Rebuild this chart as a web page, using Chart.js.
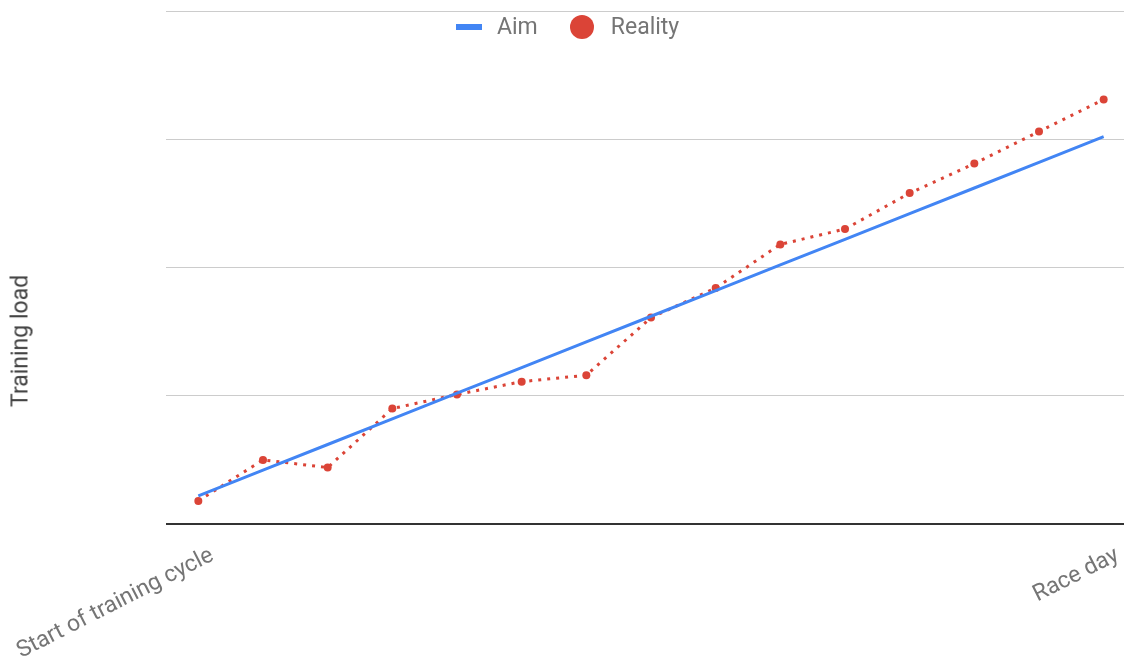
<!DOCTYPE html>
<html>
<head>
<meta charset="utf-8">
<script src="https://cdn.jsdelivr.net/npm/chart.js@4.4.1/dist/chart.umd.min.js"></script>
<style>
  html, body { margin: 0; padding: 0; background: #fff; overflow: hidden; }
  #wrap { position: relative; width: 1140px; height: 671px; }
  #legend { position: absolute; top: 13px; left: 456px; font-family: Roboto, sans-serif; font-size: 23px; line-height: 28px; color: #757575; display: flex; align-items: center; }
  #legend .bar { width: 26px; height: 6px; background: #4285f4; margin-right: 15px; }
  #legend .dot { width: 24px; height: 24px; border-radius: 50%; background: #db4437; margin: 0 17px 0 32px; }
  #ytitle { position: absolute; left: 20px; top: 341px; transform: translate(-50%, -50%) rotate(-90deg); font-family: Roboto, sans-serif; font-size: 23px; color: #424242; white-space: nowrap; }
</style>
</head>
<body>
<div id="wrap">
  <canvas id="trainingChart" width="1140" height="671"></canvas>
  <div id="legend"><span class="bar"></span>Aim<span class="dot"></span>Reality</div>
  <div id="ytitle">Training load</div>
</div>
<script>
const categories = ['Start of training cycle', '', '', '', '', '', '', '', '', '', '', '', '', '', 'Race day'];
const aim = [0.22, 0.42, 0.62, 0.82, 1.02, 1.22, 1.42, 1.62, 1.82, 2.02, 2.22, 2.42, 2.62, 2.82, 3.02];
const reality = [0.18, 0.50, 0.44, 0.90, 1.01, 1.11, 1.16, 1.61, 1.84, 2.18, 2.30, 2.58, 2.81, 3.06, 3.31];

document.addEventListener('DOMContentLoaded', function () {
  const ctx = document.getElementById('trainingChart').getContext('2d');
  new Chart(ctx, {
    type: 'line',
    data: {
      labels: categories,
      datasets: [{
        label: 'Aim',
        data: aim,
        borderColor: '#4285f4',
        borderWidth: 3,
        pointRadius: 0
      }, {
        label: 'Reality',
        data: reality,
        borderColor: '#db4437',
        backgroundColor: '#db4437',
        borderWidth: 3,
        borderDash: [3, 6],
        pointRadius: 4,
        pointBorderWidth: 0
      }]
    },
    options: {
      responsive: false,
      animation: false,
      layout: { padding: { top: 11, left: 0, right: 0, bottom: 0 } },
      plugins: { legend: { display: false }, tooltip: { enabled: false } },
      scales: {
        x: {
          offset: true,
          grid: { display: false },
          border: { display: false },
          afterFit: function (s) {
            s.height = 147;
            s.paddingLeft = 0;
            s.paddingRight = 0;
          },
          ticks: {
            autoSkip: false,
            minRotation: 27,
            maxRotation: 27,
            labelOffset: 14,
            color: '#757575',
            font: { family: 'Roboto', size: 23 },
            padding: 10
          }
        },
        y: {
          min: 0,
          max: 4,
          afterFit: function (s) { s.width = 166; },
          ticks: { stepSize: 1, display: false },
          border: { display: false },
          grid: {
            drawTicks: false,
            color: function (c) { return c.tick.value === 0 ? '#333333' : '#cccccc'; },
            lineWidth: function (c) { return c.tick.value === 0 ? 2 : 1; }
          }
        }
      }
    }
  });
});
</script>
</body>
</html>
